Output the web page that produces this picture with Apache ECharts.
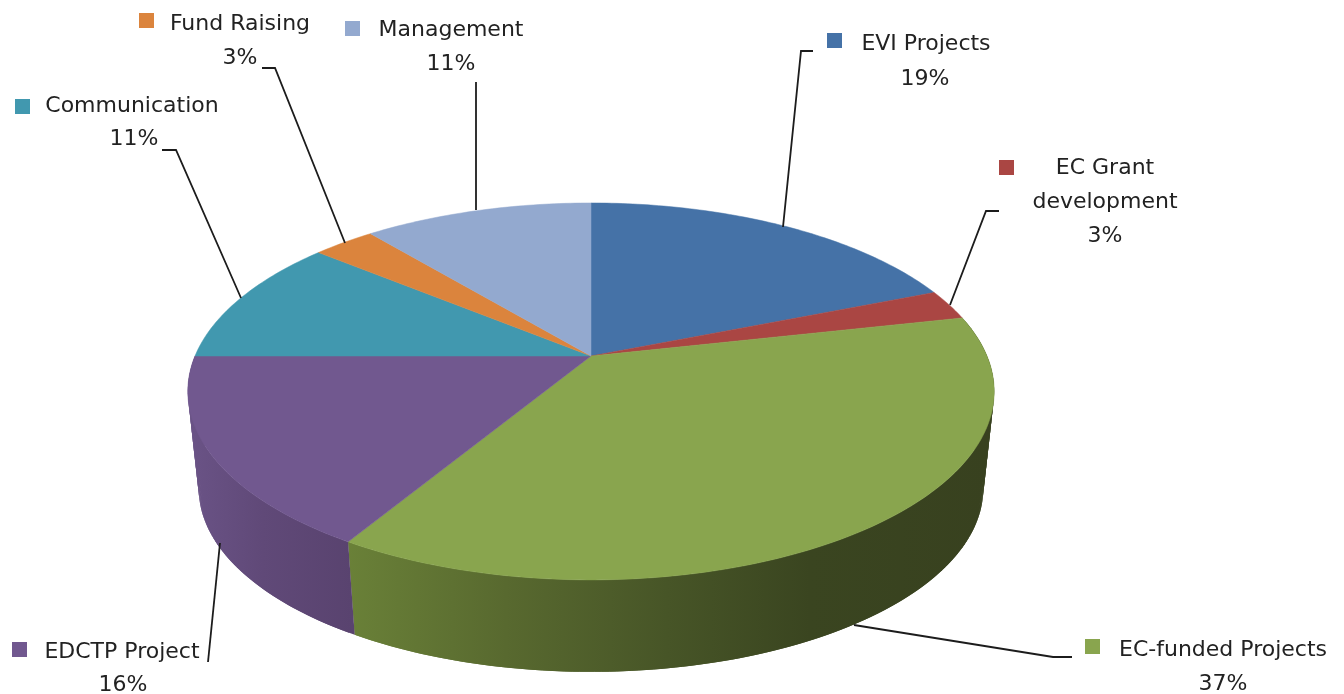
<!DOCTYPE html>
<html>
<head>
<meta charset="utf-8">
<style>
html, body { margin: 0; padding: 0; background: #fff; }
#chart { width: 1344px; height: 694px; }
</style>
<script src="https://cdn.jsdelivr.net/npm/echarts@6/dist/echarts.min.js"></script>
</head>
<body>
<div id="chart"></div>
<script>
// data, the labels round these to whole percents
const categories = ['EVI Projects', 'EC Grant\ndevelopment', 'EC-funded Projects', 'EDCTP Project', 'Communication', 'Fund Raising', 'Management'];
const shares = [18.9, 2.6, 37.1, 16.4, 11, 3, 11];
const colors = ['#4572a7', '#aa4643', '#89a54e', '#71588f', '#4198af', '#db843d', '#93a9cf'];

// perspective of the disc: apex in pixels, half axes and the tilt term
const apexX = 591, apexY = 356, axisU = 396, axisV = 181.8, tilt = -0.188;
// the lower disc is a bit smaller and sits lower
const floorY = 454, floorScale = 0.973;

function project(share, lower) {
    let a = share / 100 * Math.PI * 2;
    let u = Math.sin(a), v = -Math.cos(a);
    let d = 1 + tilt * v;
    let s = lower ? floorScale : 1;
    return [apexX + s * axisU * u / d, (lower ? floorY : apexY) + s * axisV * v / d];
}

function arc(from, to, lower) {
    let pts = [];
    let n = Math.max(2, Math.ceil((to - from) * 4));
    for (let i = 0; i <= n; i++) {
        pts.push(project(from + (to - from) * i / n, lower));
    }
    return pts;
}

let sum = 0;
const slices = shares.map(function (s, i) {
    let item = { value: [sum, sum + s, i] };
    sum += s;
    return item;
});

// global gradient so all the strips of one wall share the same shading
function lin(x0, x1, stops) {
    return new echarts.graphic.LinearGradient(x0, 0, x1, 0, stops.map(function (c) {
        return { offset: c[0], color: c[1] };
    }), true);
}

// side shading, only the two slices at the front have a visible wall
const wallFill = {
    2: lin(345, 990, [[0, '#6a8138'], [0.25, '#58692f'], [0.5, '#475527'], [0.72, '#3a4520'], [1, '#38411f']]),
    3: lin(190, 352, [[0, '#6a5386'], [0.45, '#604978'], [1, '#59436f']])
};

function renderWall(params, api) {
    let from = api.value(0), to = api.value(1), i = api.value(2);
    let strips = [];
    if (wallFill[i]) {
        let upper = arc(from, to, false), lower = arc(from, to, true);
        for (let k = 0; k < upper.length - 1; k++) {
            // each strip runs over the next one so no seams show
            let e = Math.min(k + 2, upper.length - 1);
            strips.push({
                type: 'polygon',
                shape: { points: [upper[k], upper[e], lower[e], lower[k]] },
                style: { fill: wallFill[i] }
            });
        }
    }
    return { type: 'group', children: strips };
}

function renderTop(params, api) {
    let from = api.value(0), to = api.value(1), i = api.value(2);
    return {
        type: 'polygon',
        shape: { points: [[apexX, apexY]].concat(arc(from, to, false)) },
        style: { fill: colors[i], stroke: colors[i], lineWidth: 0.5 }
    };
}

// callouts in slice order: marker corner, text lines (text center x, y), leader line
const callouts = [
    { box: [827, 33], name: [[926, 44]], pct: [925, 79], line: [[783, 227], [801, 51], [813, 51]] },
    { box: [999, 160], name: [[1105, 168], [1105, 202]], pct: [1105, 236], line: [[950, 305], [986, 211], [999, 211]] },
    { box: [1085, 639], name: [[1223, 650]], pct: [1223, 684], line: [[854, 625], [1053, 657], [1072, 657]] },
    { box: [12, 642], name: [[122, 652]], pct: [123, 685], line: [[220, 543], [208, 662]] },
    { box: [15, 99], name: [[132, 106]], pct: [134, 139], line: [[162, 150], [176, 150], [241, 298]] },
    { box: [139, 13], name: [[240, 24]], pct: [240, 58], line: [[262, 68], [275, 68], [345, 243]] },
    { box: [345, 21], name: [[451, 30]], pct: [451, 64], line: [[476, 82], [476, 210]] }
];

function label(text, pos) {
    return {
        type: 'text',
        x: pos[0],
        y: pos[1],
        z: 10,
        style: {
            text: text,
            fill: '#222',
            font: '22px "DejaVu Sans"',
            align: 'center',
            verticalAlign: 'middle'
        }
    };
}

let graphics = [];
callouts.forEach(function (c, i) {
    graphics.push({
        type: 'polyline',
        z: 9,
        shape: { points: c.line },
        style: { stroke: '#1c1c1c', lineWidth: 1.8, fill: null }
    });
    graphics.push({
        type: 'rect',
        z: 10,
        shape: { x: c.box[0], y: c.box[1], width: 15, height: 15 },
        style: { fill: colors[i] }
    });
    categories[i].split('\n').forEach(function (t, j) {
        graphics.push(label(t, c.name[j]));
    });
    graphics.push(label(Math.round(shares[i]) + '%', c.pct));
});

let chart = echarts.init(document.getElementById('chart'));
chart.setOption({
    animation: false,
    backgroundColor: '#fff',
    graphic: graphics,
    series: [
        { type: 'custom', coordinateSystem: 'none', z: 1, renderItem: renderWall, data: slices, silent: true },
        { type: 'custom', coordinateSystem: 'none', z: 2, renderItem: renderTop, data: slices, silent: true }
    ]
});
</script>
</body>
</html>
